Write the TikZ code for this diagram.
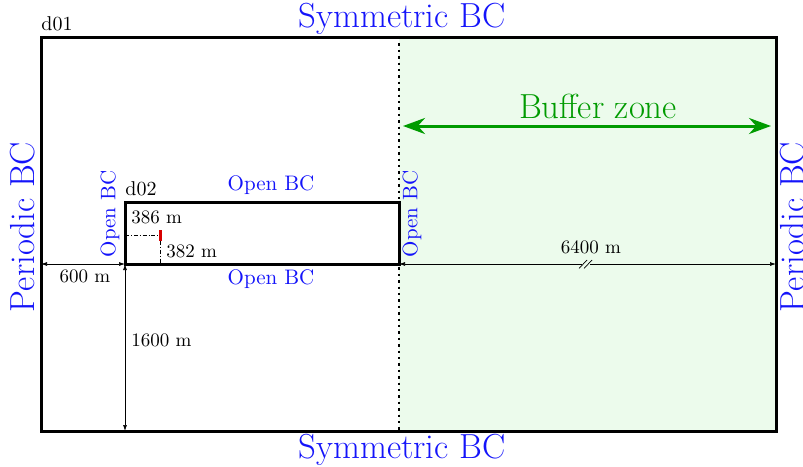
\documentclass[tikz,border=0pt]{standalone}
\usetikzlibrary{arrows.meta}
\definecolor{bcblue}{RGB}{20,20,250}
\definecolor{bufgreen}{RGB}{0,155,0}
\definecolor{buffill}{RGB}{236,251,236}
\definecolor{probe}{RGB}{215,0,0}
\begin{document}
\begin{tikzpicture}[x=0.5pt,y=-0.5pt,
  dom/.style={line width=1.5pt},
  bigbc/.style={font=\fontsize{17.4}{20}\selectfont, text=bcblue, inner sep=0pt},
  openbc/.style={font=\fontsize{10.5}{12}\selectfont, text=bcblue, inner sep=0pt},
  lbl/.style={font=\fontsize{9.5}{11}\selectfont, inner sep=0pt},
  dname/.style={font=\fontsize{10}{12}\selectfont, inner sep=0pt, anchor=base west},
  dimline/.style={line width=0.35pt, {Latex[length=3pt,width=2pt]}-{Latex[length=3pt,width=2pt]}},
  guide/.style={line width=0.35pt, dash pattern=on 2pt off 1pt on 0.4pt off 1pt},
]
\useasboundingbox (0,0) rectangle (803,466);
\clip (0,0) rectangle (803,466);

% corners of the outer domain d01 and the nested domain d02
\coordinate (o-nw) at (41,37);
\coordinate (o-se) at (776,431);
\coordinate (mid-top) at (399,37);
\coordinate (mid-bot) at (399,431);
\coordinate (i-nw) at (125,202);
\coordinate (i-se) at (399,264);
\coordinate (i-sw) at (125,264);
\coordinate (o-w) at (41,264);
\coordinate (o-e) at (776,264);
\coordinate (o-s) at (125,431);

% buffer zone shading
\fill[buffill] (mid-top) rectangle (o-se);
\draw[line width=0.8pt, dash pattern=on 1.2pt off 2pt] (mid-top) -- (mid-bot);

% domains
\draw[dom] (o-nw) rectangle (o-se);
\draw[dom] (i-nw) rectangle (i-se);
\node[dname] (d01) at (41,30) {d01};
\node[dname] (d02) at (125,195) {d02};

% boundary conditions of d01
\node[bigbc] (symtop) at (402,19) {Symmetric BC};
\node[bigbc] (symbot) at (402,450) {Symmetric BC};
\node[bigbc, rotate=90] (perleft) at (23,227) {Periodic BC};
\node[bigbc, rotate=90] (perright) at (793,227) {Periodic BC};

% boundary conditions of d02
\node[openbc] (opentop) at (271,185) {Open BC};
\node[openbc] (openbot) at (271,279) {Open BC};
\node[openbc, rotate=90] (openleft) at (110,214) {Open BC};
\node[openbc, rotate=90] (openright) at (412,214) {Open BC};

% buffer zone
\node[font=\fontsize{17.4}{20}\selectfont, text=bufgreen, inner sep=0pt] (buf) at (598,106) {Buffer zone};
\coordinate (buf-l) at (403,126);
\coordinate (buf-r) at (771,126);
\draw[bufgreen, line width=1.5pt, {Stealth[length=11pt,width=8pt]}-{Stealth[length=11pt,width=8pt]}] (buf-l) -- (buf-r);

% probe location inside d02
\coordinate (probe-top) at (160.5,230);
\coordinate (probe-bot) at (160.5,241);
\coordinate (probe-w) at (125,235.5);
\coordinate (probe-s) at (160.5,264);
\draw[guide] (probe-w) -- (probe-top |- probe-w);
\draw[guide] (probe-bot) -- (probe-s);
\draw[probe, line width=1.5pt] (probe-top) -- (probe-bot);
\node[lbl, anchor=base west] (l386) at (131,223) {386 m};
\node[lbl, anchor=base west] (l382) at (166,257) {382 m};

% distances
\draw[dimline] (o-w) -- (i-sw);
\node[lbl] (l600) at (85,276) {600 m};
\draw[dimline] (i-se) -- (o-e);
\node[lbl] (l6400) at (591,247) {6400 m};
\fill[buffill] (582,261) -- (590,261) -- (590,267) -- (582,267) -- cycle;
\draw[line width=0.35pt] (579,268.5) -- (587,260) (584,268.5) -- (592,260);
\draw[dimline] (i-sw) -- (o-s);
\node[lbl, anchor=west] (l1600) at (131,340) {1600 m};
\end{tikzpicture}
\end{document}
